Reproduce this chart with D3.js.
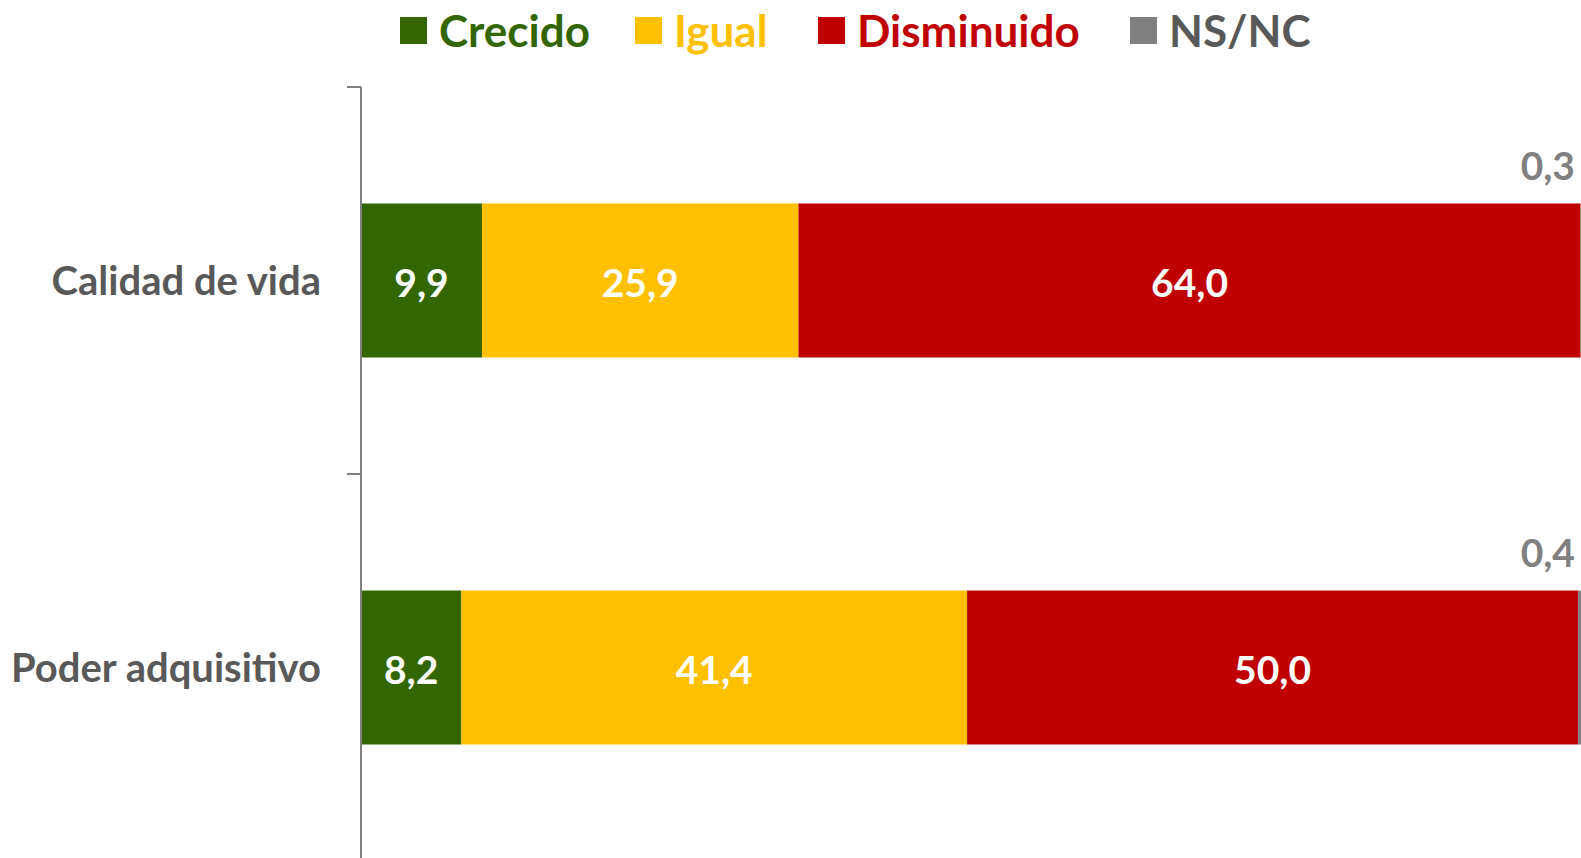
<!DOCTYPE html>
<html>
<head>
<meta charset="utf-8">
<script src="https://cdn.jsdelivr.net/npm/d3@7"></script>
<style>
  html, body { margin: 0; padding: 0; background: #ffffff; }
  svg { display: block; font-family: Lato, "Open Sans", sans-serif; font-weight: bold; }
</style>
</head>
<body>
<svg id="chart" width="1581" height="858"></svg>
<script>
// ---- data ----
const categories = ["Calidad de vida", "Poder adquisitivo"];
const seriesNames = ["Crecido", "Igual", "Disminuido", "NS/NC"];
const crecido = [9.9, 8.2];
const igual = [25.9, 41.4];
const disminuido = [64.0, 50.0];
const nsnc = [0.3, 0.4];

const seriesColors = ["#336600", "#FFC000", "#C00000", "#808080"];
const legendTextColors = ["#336600", "#FFC000", "#C00000", "#595959"];

const fmt = v => d3.format(".1f")(v).replace(".", ",");

const rows = categories.map((c, i) => ({
  cat: c, Crecido: crecido[i], Igual: igual[i], Disminuido: disminuido[i], "NS/NC": nsnc[i]
}));
const stacked = d3.stack().keys(seriesNames)(rows);

const svg = d3.select("#chart");

const x = d3.scaleLinear().domain([0, 100]).range([361, 1583]);
const yCat = d3.scaleBand().domain(categories).range([87, 861]).padding(0);
const barH = 154;
const barY = i => yCat(categories[i]) + yCat.bandwidth() / 2 - barH / 2;

// bars
const g = svg.append("g");
stacked.forEach((s, si) => {
  g.selectAll(null).data(s).enter().append("rect")
    .attr("x", d => x(d[0]))
    .attr("width", d => x(d[1]) - x(d[0]))
    .attr("y", (d, i) => barY(i))
    .attr("height", barH)
    .attr("fill", seriesColors[si]);
});

// labels inside
stacked.slice(0, 3).forEach((s, si) => {
  g.selectAll(null).data(s).enter().append("text")
    .attr("x", d => (x(d[0]) + x(d[1])) / 2)
    .attr("y", (d, i) => barY(i) + barH / 2 + 2)
    .attr("dy", "0.36em")
    .attr("text-anchor", "middle")
    .attr("fill", "#ffffff")
    .attr("font-size", 39)
    .text(d => fmt(d[1] - d[0]));
});
// NS/NC labels above
g.selectAll(null).data(stacked[3]).enter().append("text")
  .attr("x", d => Math.min(x(d[1]), 1581) - 6)
  .attr("y", (d, i) => barY(i) - 38)
  .attr("dy", "0.36em")
  .attr("text-anchor", "end")
  .attr("fill", "#808080")
  .attr("font-size", 39)
  .text((d, i) => fmt(nsnc[i]));

// y axis
const axis = d3.axisLeft(yCat).tickSize(0).tickFormat("");
const ax = svg.append("g").attr("transform", "translate(361,0)").call(axis);
ax.select(".domain").attr("stroke", "#808080").attr("stroke-width", 2)
  .attr("d", `M0,87V861`);
ax.selectAll(null).data(categories).enter().append("line")
  .attr("x1", -14).attr("x2", 0)
  .attr("y1", d => yCat(d)).attr("y2", d => yCat(d))
  .attr("stroke", "#808080").attr("stroke-width", 2);

// category labels
svg.append("g").selectAll("text").data(categories).enter().append("text")
  .attr("x", 321)
  .attr("y", d => yCat(d) + yCat.bandwidth() / 2)
  .attr("dy", "0.36em")
  .attr("text-anchor", "end")
  .attr("fill", "#595959")
  .attr("font-size", 40)
  .text(d => d);

// legend
const legendX = [400, 635, 818, 1130];
const lg = svg.append("g");
seriesNames.forEach((n, i) => {
  lg.append("rect").attr("x", legendX[i]).attr("y", 17).attr("width", 27).attr("height", 27)
    .attr("fill", seriesColors[i]);
  lg.append("text").attr("x", legendX[i] + 39).attr("y", 31).attr("dy", "0.36em")
    .attr("fill", legendTextColors[i]).attr("font-size", 44).text(n);
});
</script>
</body>
</html>
